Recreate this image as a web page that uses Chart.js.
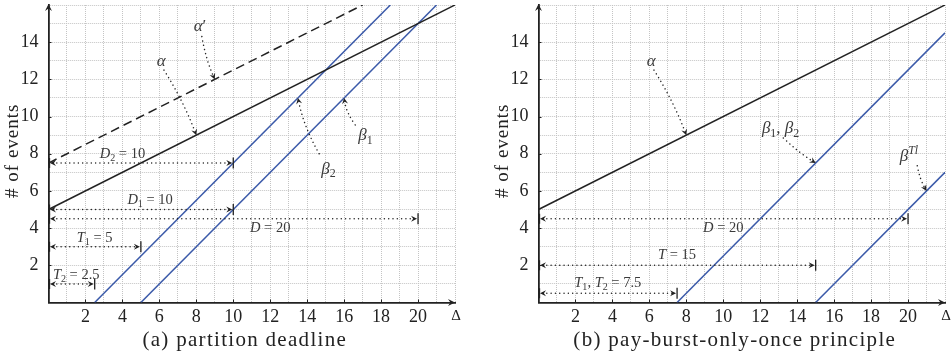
<!DOCTYPE html>
<html>
<head>
<meta charset="utf-8">
<script src="https://cdn.jsdelivr.net/npm/chart.js@4.4.1/dist/chart.umd.min.js"></script>
<style>
  html, body { margin: 0; padding: 0; background: #fff; }
  body { width: 952px; height: 354px; position: relative; overflow: hidden; }
  canvas { position: absolute; top: 0; }
  #chartA { left: 0; }
  #chartB { left: 490px; }
</style>
</head>
<body>
<canvas id="chartA" width="475" height="354"></canvas>
<canvas id="chartB" width="462" height="354"></canvas>
<script>
// ---- axis ranges and tick labels ----
const X_MAX = 22;
const Y_MAX = 16;
const xTickLabels = [2, 4, 6, 8, 10, 12, 14, 16, 18, 20];
const yTickLabels = [2, 4, 6, 8, 10, 12, 14];

// ---- (a) partition deadline: arrival / service curves ----
const alphaA      = [{x: 0, y: 5},   {x: 22, y: 16}];
const alphaPrimeA = [{x: 0, y: 7.5}, {x: 17, y: 16}];
const beta1A      = [{x: 5, y: 0},   {x: 21, y: 16}];
const beta2A      = [{x: 2.5, y: 0}, {x: 18.5, y: 16}];

// intervals measured along the Δ axis, drawn at a given event level
const intervalsA = [
  {text: 'D_2 = 10', level: 7.5, length: 10},
  {text: 'D_1 = 10', level: 5,   length: 10},
  {text: 'D = 20',   level: 4.5, length: 20},
  {text: 'T_1 = 5',  level: 3,   length: 5},
  {text: 'T_2 = 2.5', level: 1,  length: 2.5}
];
// curve names and the point each pointer lands on
const pointersA = [
  {text: "α′",   target: {x: 9,    y: 12}},
  {text: 'α',    target: {x: 8,    y: 9}},
  {text: 'β_1',  target: {x: 16,   y: 11}},
  {text: 'β_2',  target: {x: 13.5, y: 11}}
];

// ---- (b) pay-burst-only-once principle ----
const alphaB   = [{x: 0, y: 5},   {x: 22, y: 16}];
const beta12B  = [{x: 7.5, y: 0}, {x: 22, y: 14.5}];
const betaTlB  = [{x: 15, y: 0},  {x: 22, y: 7}];

const intervalsB = [
  {text: 'D = 20',        level: 4.5, length: 20},
  {text: 'T = 15',        level: 2,   length: 15},
  {text: 'T_1, T_2 = 7.5', level: 0.5, length: 7.5}
];
const pointersB = [
  {text: 'α',         target: {x: 8,  y: 9}},
  {text: 'β_1, β_2',  target: {x: 15, y: 7.5}},
  {text: 'β^{Tl}',    target: {x: 21, y: 6}}
];

// ---- label placement (data units) ----
const layoutA = {
  intervalLabels: [[4.0, 8.0], [5.5, 5.55], [12.0, 4.0], [2.5, 3.5], [1.5, 1.5]],
  pointerLabels:  [[8.2, 14.85], [6.1, 13.0], [17.15, 9.0], [15.15, 7.2]],
  pointerStarts:  [[8.3, 14.3], [6.25, 12.5], [16.6, 9.55], [14.65, 8.0]],
  pointerBends:   [0.06, -0.05, -0.12, -0.08]
};
const layoutB = {
  intervalLabels: [[10.0, 4.0], [7.5, 2.55], [3.75, 1.06]],
  pointerLabels:  [[6.1, 13.0], [13.1, 9.4], [20.05, 7.9]],
  pointerStarts:  [[6.25, 12.5], [13.25, 8.85], [20.5, 7.35]],
  pointerBends:   [-0.05, 0.05, 0.08]
};

const SERIF = '"Liberation Serif", "DejaVu Serif", serif';
const INK = '#222';
const BLUE = '#3b5aa9';
const TEXT_GREY = '#3a3a3a';

// ---- drawing helpers ----
function parseMath(s) {
  const segs = [];
  let i = 0;
  while (i < s.length) {
    const ch = s[i];
    if (ch === '_' || ch === '^') {
      i++;
      let body;
      if (s[i] === '{') { const j = s.indexOf('}', i); body = s.slice(i + 1, j); i = j + 1; }
      else { body = s[i]; i++; }
      for (const c of body) segs.push({c, mode: ch === '_' ? 'sub' : 'sup'});
    } else {
      segs.push({c: ch, mode: 'base'});
      i++;
    }
  }
  return segs;
}
function segFont(seg, size) {
  const sz = seg.mode === 'base' ? size : size * 0.7;
  const italic = /[A-Za-zα-ω]/.test(seg.c);
  return (italic ? 'italic ' : '') + sz.toFixed(1) + 'px ' + SERIF;
}
function drawMath(ctx, str, cx, cy, size, color) {
  const segs = parseMath(str);
  let w = 0;
  for (const sg of segs) { ctx.font = segFont(sg, size); sg.w = ctx.measureText(sg.c).width; w += sg.w; }
  let x = cx - w / 2;
  ctx.save();
  ctx.fillStyle = color;
  ctx.textBaseline = 'alphabetic';
  ctx.textAlign = 'left';
  const base = cy + size * 0.3;
  for (const sg of segs) {
    ctx.font = segFont(sg, size);
    let y = base;
    if (sg.mode === 'sub') y += size * 0.22;
    if (sg.mode === 'sup') y -= size * 0.42;
    ctx.fillText(sg.c, x, y);
    x += sg.w;
  }
  ctx.restore();
}
function arrowHead(ctx, x, y, ang, size, color) {
  ctx.save();
  ctx.translate(x, y);
  ctx.rotate(ang);
  ctx.fillStyle = color;
  ctx.beginPath();
  ctx.moveTo(0, 0);
  ctx.lineTo(-size, -size * 0.5);
  ctx.lineTo(-size * 0.65, 0);
  ctx.lineTo(-size, size * 0.5);
  ctx.closePath();
  ctx.fill();
  ctx.restore();
}
function dotted(ctx) {
  ctx.setLineDash([0.01, 4.3]);
  ctx.lineCap = 'round';
  ctx.lineWidth = 1.5;
  ctx.strokeStyle = INK;
}

function decorPlugin(intervals, pointers, layout, caption) {
  return {
    id: 'decor',
    afterDatasetsDraw(chart) {
      const {ctx, chartArea: a, scales: {x: sx, y: sy}} = chart;
      const P = (x, y) => [sx.getPixelForValue(x), sy.getPixelForValue(y)];
      ctx.save();

      // axis arrows
      arrowHead(ctx, a.left, a.top - 1, -Math.PI / 2, 7, INK);
      arrowHead(ctx, a.right, a.bottom, 0, 7, INK);

      // small inward tick marks at labelled values
      ctx.strokeStyle = INK; ctx.lineWidth = 1; ctx.setLineDash([]);
      ctx.beginPath();
      for (const v of xTickLabels) { const px = Math.round(sx.getPixelForValue(v)) + 0.5; ctx.moveTo(px, a.bottom); ctx.lineTo(px, a.bottom - 3); }
      for (const v of yTickLabels) { const py = Math.round(sy.getPixelForValue(v)) + 0.5; ctx.moveTo(a.left, py); ctx.lineTo(a.left + 3, py); }
      ctx.stroke();

      // Δ and axis title
      ctx.fillStyle = INK;
      ctx.font = '15px ' + SERIF;
      ctx.textAlign = 'center'; ctx.textBaseline = 'middle';
      ctx.fillText('Δ', a.right + 1, a.bottom + 13.5);
      ctx.save();
      ctx.translate(a.left - 35, (a.top + a.bottom) / 2 - 3);
      ctx.rotate(-Math.PI / 2);
      ctx.font = '19px ' + SERIF;
      ctx.letterSpacing = '1px';
      ctx.fillText('# of events', 0, 0);
      ctx.restore();

      // caption
      ctx.save();
      ctx.font = '21px ' + SERIF;
      ctx.letterSpacing = '1.3px';
      ctx.textAlign = 'center'; ctx.textBaseline = 'alphabetic';
      ctx.fillText(caption, (a.left + a.right) / 2 - 7, 346);
      ctx.restore();

      // intervals: dotted double arrows from Δ = 0
      intervals.forEach((iv, k) => {
        const [x0, y] = P(0, iv.level);
        const [x1] = P(iv.length, iv.level);
        ctx.save();
        dotted(ctx);
        ctx.beginPath(); ctx.moveTo(x0 + 4, y); ctx.lineTo(x1 - 4, y); ctx.stroke();
        ctx.restore();
        ctx.save();
        ctx.strokeStyle = INK; ctx.lineWidth = 1.3; ctx.setLineDash([]);
        ctx.beginPath();
        ctx.moveTo(x0 + 1, y - 5); ctx.lineTo(x0 + 1, y + 5);
        ctx.moveTo(x1, y - 5.5); ctx.lineTo(x1, y + 5.5);
        ctx.stroke();
        ctx.restore();
        arrowHead(ctx, x0 + 1.5, y, Math.PI, 6, INK);
        arrowHead(ctx, x1 - 1, y, 0, 6, INK);
        const [lx, ly] = P(...layout.intervalLabels[k]);
        drawMath(ctx, iv.text, lx, ly, 14.5, TEXT_GREY);
      });

      // pointers from curve names to the curves
      pointers.forEach((pt, k) => {
        const [sxp, syp] = P(...layout.pointerStarts[k]);
        const [tx, ty] = P(pt.target.x, pt.target.y);
        const dx = tx - sxp, dy = ty - syp;
        const bend = layout.pointerBends[k];
        const cx = (sxp + tx) / 2 - dy * bend, cy = (syp + ty) / 2 + dx * bend;
        const cl = Math.hypot(tx - cx, ty - cy);
        ctx.save();
        dotted(ctx);
        ctx.beginPath(); ctx.moveTo(sxp, syp);
        ctx.quadraticCurveTo(cx, cy, tx - (tx - cx) / cl * 4, ty - (ty - cy) / cl * 4);
        ctx.stroke();
        ctx.restore();
        arrowHead(ctx, tx, ty, Math.atan2(ty - cy, tx - cx), 6, INK);
        const [lx, ly] = P(...layout.pointerLabels[k]);
        drawMath(ctx, pt.text, lx, ly, 17, TEXT_GREY);
      });

      ctx.restore();
    }
  };
}

function lineSet(data, color, dash) {
  return {data, borderColor: color, borderWidth: 1.5, borderDash: dash || [], pointRadius: 0, showLine: true, fill: false, tension: 0};
}

// drop the automatic label overhang so the plot area sits exactly inside the padding
function noOverhang(s) { s.paddingTop = 0; s.paddingBottom = 0; s.paddingLeft = 0; s.paddingRight = 0; }

function makeChart(id, datasets, rightPad, decor) {
  const tickFont = {family: SERIF, size: 18};
  return new Chart(document.getElementById(id), {
    type: 'scatter',
    data: {datasets},
    options: {
      responsive: false,
      animation: false,
      devicePixelRatio: 1,
      events: [],
      layout: {padding: {left: 0, right: rightPad, top: 5, bottom: 0}},
      plugins: {legend: {display: false}, tooltip: {enabled: false}},
      scales: {
        x: {
          type: 'linear', min: 0, max: X_MAX,
          afterFit: s => { s.height = 51.5; noOverhang(s); },
          ticks: {stepSize: 1, autoSkip: false, maxRotation: 0, padding: 4, color: INK, font: tickFont,
                  callback: v => xTickLabels.includes(v) ? String(v) : ''},
          grid: {color: '#c4c4c4', lineWidth: 1, drawTicks: false},
          border: {display: true, color: INK, width: 1.8, dash: [1, 1]}
        },
        y: {
          type: 'linear', min: 0, max: Y_MAX,
          afterFit: s => { s.width = 48.5; noOverhang(s); },
          ticks: {stepSize: 1, autoSkip: false, padding: 10, color: INK, font: tickFont,
                  callback: v => yTickLabels.includes(v) ? String(v) : ''},
          grid: {color: '#c4c4c4', lineWidth: 1, drawTicks: false},
          border: {display: true, color: INK, width: 1.8, dash: [1, 1]}
        }
      }
    },
    plugins: [decor]
  });
}

makeChart('chartA', [
  lineSet(alphaA, INK),
  lineSet(alphaPrimeA, INK, [9, 5]),
  lineSet(beta1A, BLUE),
  lineSet(beta2A, BLUE)
], 20, decorPlugin(intervalsA, pointersA, layoutA, '(a) partition deadline'));

makeChart('chartB', [
  lineSet(alphaB, INK),
  lineSet(beta12B, BLUE),
  lineSet(betaTlB, BLUE)
], 7, decorPlugin(intervalsB, pointersB, layoutB, '(b) pay-burst-only-once principle'));
</script>
</body>
</html>
